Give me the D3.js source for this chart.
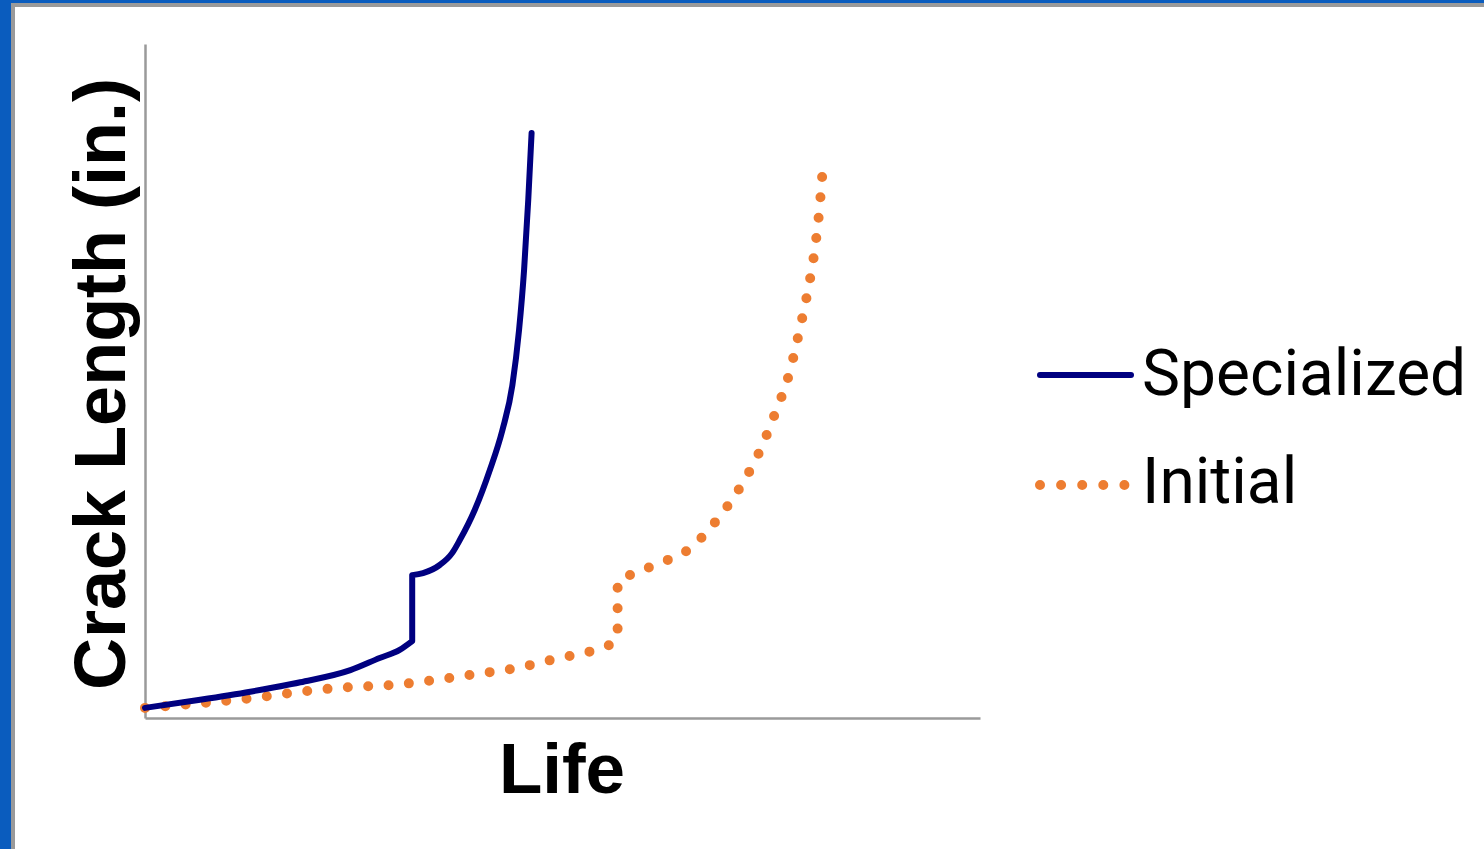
<!DOCTYPE html>
<html><head><meta charset="utf-8">
<script src="https://cdn.jsdelivr.net/npm/d3@7"></script>
<style>html,body{margin:0;padding:0;background:#0a5cbe;overflow:hidden}</style>
</head><body>
<script>
// Data (Life in %, Crack Length in % of axis range); each series split at its step
const specializedLifeA  = [0,6.6,12.6,18.6,24.6,28.1,30.5,32.0];
const specializedCrackA = [1.5,2.7,3.9,5.3,7.1,8.9,10.1,11.4];
const specializedLifeB  = [32.0,33.3,35.3,36.8,37.7,39.5,41.3,42.8,44.0,44.8,45.4,45.9,46.3];
const specializedCrackB = [21.2,21.5,22.7,24.5,26.4,30.9,36.8,42.7,49.4,57.6,66.5,76.9,86.8];
const initialLifeA  = [0,6.6,13.8,18.6,24.6,29.7,34.5,39.5,44.4,49.3,54.1,56.3,56.6];
const initialCrackA = [1.5,2.2,3.1,3.9,4.6,4.9,5.6,6.5,7.4,8.8,10.2,11.4,13.0];
const initialLifeB  = [56.6,58.6,61.7,65.3,68.3,71.3,73.7,75.4,77.2,78.4,79.4,80.2,80.7,81.1];
const initialCrackB = [20.3,21.5,23.0,25.2,29.1,34.3,39.8,45.0,51.3,57.6,63.5,69.4,74.6,80.4];
const seriesNames = ["Specialized","Initial"];
const xTitle = "Life";
const yTitle = "Crack Length (in.)";

const W = 1484, H = 849;
const svg = d3.select("body").append("svg").attr("width", W).attr("height", H);

// slide panel
svg.append("rect").attr("x",0).attr("y",0).attr("width",W).attr("height",H).attr("fill","#0a5cbe");
svg.append("rect").attr("x",11).attr("y",3).attr("width",W).attr("height",H).attr("fill","#9a9a9a");
svg.append("rect").attr("x",15).attr("y",7).attr("width",W).attr("height",H).attr("fill","#ffffff");

const x = d3.scaleLinear().domain([0,100]).range([145,980]);
const y = d3.scaleLinear().domain([0,100]).range([718,44]);

// axes
const axisColor = "#9a9a9a";
const gx = svg.append("g").attr("transform","translate(0,718)")
  .call(d3.axisBottom(x).tickValues([]).tickSizeOuter(0));
gx.select(".domain").attr("stroke",axisColor).attr("stroke-width",2.5);
const gy = svg.append("g").attr("transform","translate(145,0)")
  .call(d3.axisLeft(y).tickValues([]).tickSizeOuter(0));
gy.select(".domain").attr("stroke",axisColor).attr("stroke-width",2.5);

const line = d3.line().x(d=>x(d[0])).y(d=>y(d[1])).curve(d3.curveMonotoneX);
const zip = (a,b)=>a.map((v,i)=>[v,b[i]]);
const stepPath = (a,b)=> line(a) + line(b).replace(/^M/,"L");

const initD = stepPath(zip(initialLifeA,initialCrackA), zip(initialLifeB,initialCrackB));
const initPath = svg.append("path").attr("d",initD).attr("fill","none")
  .attr("stroke","#ed7d31").attr("stroke-width",10).attr("stroke-linecap","round");
const L = initPath.node().getTotalLength();
const n = Math.round(L/20.5);
const gap = (L - 1) / n;
initPath.attr("stroke-dasharray", `0 ${gap}`);

svg.append("path").attr("d",stepPath(zip(specializedLifeA,specializedCrackA), zip(specializedLifeB,specializedCrackB)))
  .attr("fill","none").attr("stroke","#000080").attr("stroke-width",6)
  .attr("stroke-linecap","round").attr("stroke-linejoin","round");

// axis titles
svg.append("text").attr("x",562).attr("y",793).attr("text-anchor","middle")
  .attr("font-family","Liberation Sans, Arial, sans-serif").attr("font-weight","bold")
  .attr("font-size",71).attr("fill","#000").text(xTitle);
svg.append("text").attr("transform","translate(125,384) rotate(-90)").attr("text-anchor","middle")
  .attr("font-family","Liberation Sans, Arial, sans-serif").attr("font-weight","bold")
  .attr("font-size",72).attr("fill","#000").text(yTitle);

// legend
const lg = svg.append("g");
lg.append("line").attr("x1",1040).attr("x2",1131).attr("y1",375).attr("y2",375)
  .attr("stroke","#000080").attr("stroke-width",6).attr("stroke-linecap","round");
lg.append("line").attr("x1",1040).attr("x2",1124.5).attr("y1",485).attr("y2",485)
  .attr("stroke","#ed7d31").attr("stroke-width",10).attr("stroke-linecap","round")
  .attr("stroke-dasharray","0 21.1");
lg.append("text").attr("x",1142).attr("y",395).attr("font-family","Roboto, sans-serif")
  .attr("font-size",64).attr("fill","#000").text(seriesNames[0]);
lg.append("text").attr("x",1142).attr("y",503).attr("font-family","Roboto, sans-serif")
  .attr("font-size",64).attr("fill","#000").text(seriesNames[1]);
</script>
</body></html>
